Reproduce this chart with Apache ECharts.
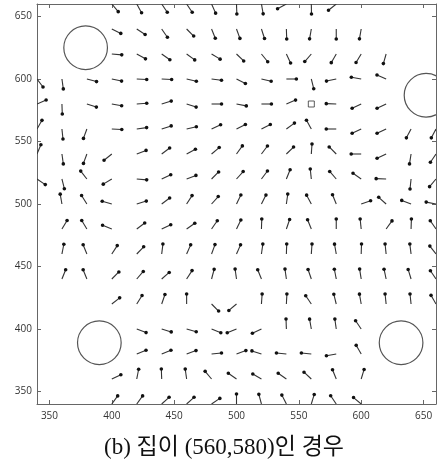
<!DOCTYPE html>
<html>
<head>
<meta charset="utf-8">
<script src="https://cdn.jsdelivr.net/npm/echarts@6/dist/echarts.min.js"></script>
<style>
  html, body { margin: 0; padding: 0; background: #fff; }
  #chart { width: 438px; height: 461px; }
</style>
</head>
<body>
<div id="chart"></div>
<script>
// grid columns / rows (data units)
const xs = [340, 360, 380, 400, 420, 440, 460, 480, 500, 520, 540, 560, 580, 600, 620, 640, 660];
const ys = [660, 640, 620, 600, 580, 560, 540, 520, 500, 480, 460, 440, 420, 400, 380, 360, 340];

// arrow direction (degrees, 0 = right, 90 = up), one array per row, null = no arrow
const r660 = [null, null, null, -50, -61, -56, -56, -66, -88, -80, 208, -89, 219, null, null, null, null];
const r640 = [null, null, null, -26, -33, -55, -45, -68, -70, -72, -88, -100, -90, -100, null, null, null];
const r620 = [null, null, null, -5, -29, -35, -36, -31, -44, -51, -65, 229, 240, 239, 254, null, null];
const r600 = [-53, -82, -15, -12, -3, -3, -13, -7, -27, -13, 0, -76, 192, 170, 156, null, null];
const r580 = [24, -88, -18, -10, 4, 17, -18, 0, -11, 0, 23, null, 178, 205, 205, null, null];
const r560 = [60, -84, -110, -3, 8, 18, 13, 25, 27, 27, 36, 119, 180, 205, 205, 242, 242];
const r540 = [67, -82, -110, 219, 21, 37, 28, 40, 54, 53, 44, 86, 135, 180, 205, -99, -124];
const r520 = [-34, -76, 128, 211, -5, 25, 21, 45, 48, 53, 68, 96, 131, 145, 178, -96, -130];
const r500 = [null, 100, 122, 164, 17, 37, 57, 48, 64, 63, 82, 118, 112, 19, 138, 159, 169];
const r480 = [null, 59, 121, 158, 37, 25, 35, 55, 64, 88, 71, 112, 90, 96, 54, 88, 125];
const r460 = [null, 79, 112, 57, 46, 83, 66, 70, 66, 82, 88, 86, 100, 88, 96, 97, 128];
const r440 = [null, 68, 112, 45, 49, 41, 57, 75, 98, 112, 98, 109, 101, 99, 102, 107, 124];
const r420 = [null, null, null, 38, 58, 71, 90, -45, 220, 86, 87, 124, 104, 100, 96, 96, 120];
const r400 = [null, null, null, null, -21, -17, -16, -22, 202, 205, 92, 100, 98, 124, null, null, null];
const r380 = [null, null, null, null, 22, 22, 20, 6, 20, 162, 174, 174, 190, 120, null, null, null];
const r360 = [null, null, null, 25, 79, 92, 98, 130, 145, 150, 145, 137, 112, 73, null, null, null];
const r340 = [null, null, null, 54, 54, 42, 42, 34, 90, 105, 117, 73, 124, 140, null, null, null];
const angleRows = [r660, r640, r620, r600, r580, r560, r540, r520, r500, r480, r460, r440, r420, r400, r380, r360, r340];

const arrowLen = 8;

// obstacles (circles) and the home point
const circleX = [379, 652, 390, 632];
const circleY = [625, 587, 389, 389];
const circleR = 17.5;
const homeX = [560];
const homeY = [580];

const xTicks = [350, 400, 450, 500, 550, 600, 650];
const yTicks = [350, 400, 450, 500, 550, 600, 650];

const arrows = [];
ys.forEach(function (y, i) {
    angleRows[i].forEach(function (a, j) {
        if (a !== null) arrows.push([xs[j], y, a]);
    });
});

const chart = echarts.init(document.getElementById('chart'));

const frameColor = '#666';
const axisCommon = {
    type: 'value',
    min: 340,
    max: 660,
    axisLine: { show: true, onZero: false, lineStyle: { color: frameColor, width: 1 } },
    splitLine: { show: false }
};

const option = {
    animation: false,
    backgroundColor: '#fff',
    grid: { left: 37, right: 2, top: 4, bottom: 57 },
    xAxis: [
        Object.assign({}, axisCommon, {
            position: 'bottom',
            axisTick: { show: true, inside: true, length: 4, customValues: xTicks, lineStyle: { color: frameColor } },
            axisLabel: { show: true, customValues: xTicks, margin: 7, color: '#333', fontSize: 10, fontFamily: 'Open Sans' }
        }),
        Object.assign({}, axisCommon, {
            position: 'top',
            axisTick: { show: true, inside: true, length: 4, customValues: xTicks, lineStyle: { color: frameColor } },
            axisLabel: { show: false }
        })
    ],
    yAxis: [
        Object.assign({}, axisCommon, {
            position: 'left',
            axisTick: { show: true, inside: true, length: 4, customValues: yTicks, lineStyle: { color: frameColor } },
            axisLabel: { show: true, customValues: yTicks, margin: 5, color: '#333', fontSize: 10, fontFamily: 'Open Sans' }
        }),
        Object.assign({}, axisCommon, {
            position: 'right',
            axisTick: { show: true, inside: true, length: 4, customValues: yTicks, lineStyle: { color: frameColor } },
            axisLabel: { show: false }
        })
    ],
    series: [
        {
            type: 'custom',
            clip: true,
            data: circleX.map(function (x, i) { return [x, circleY[i]]; }),
            renderItem: function (params, api) {
                const c = api.coord([api.value(0), api.value(1)]);
                const r = api.size([circleR, 0])[0];
                return {
                    type: 'circle',
                    shape: { cx: c[0], cy: c[1], r: r },
                    style: { fill: 'none', stroke: '#555', lineWidth: 1.2 }
                };
            }
        },
        {
            type: 'custom',
            clip: true,
            data: arrows,
            renderItem: function (params, api) {
                const x = api.value(0), y = api.value(1);
                const a = api.value(2) * Math.PI / 180;
                const p0 = api.coord([x, y]);
                const p1 = api.coord([x + arrowLen * Math.cos(a), y + arrowLen * Math.sin(a)]);
                return {
                    type: 'group',
                    children: [
                        { type: 'line', shape: { x1: p0[0], y1: p0[1], x2: p1[0], y2: p1[1] }, style: { stroke: '#333', lineWidth: 1.1 } },
                        { type: 'circle', shape: { cx: p1[0], cy: p1[1], r: 1.8 }, style: { fill: '#111' } }
                    ]
                };
            }
        },
        {
            type: 'scatter',
            data: homeX.map(function (x, i) { return [x, homeY[i]]; }),
            symbol: 'rect',
            symbolSize: 6,
            itemStyle: { color: '#fff', borderColor: '#333', borderWidth: 1 }
        }
    ],
    graphic: [
        {
            type: 'text',
            x: 224,
            y: 448,
            style: {
                text: '(b) 집이 (560,580)인 경우',
                fontSize: 23,
                fontFamily: '"Liberation Serif", "Noto Sans CJK KR"',
                fill: '#111',
                textAlign: 'center',
                textVerticalAlign: 'middle'
            }
        }
    ]
};

chart.setOption(option);
</script>
</body>
</html>
